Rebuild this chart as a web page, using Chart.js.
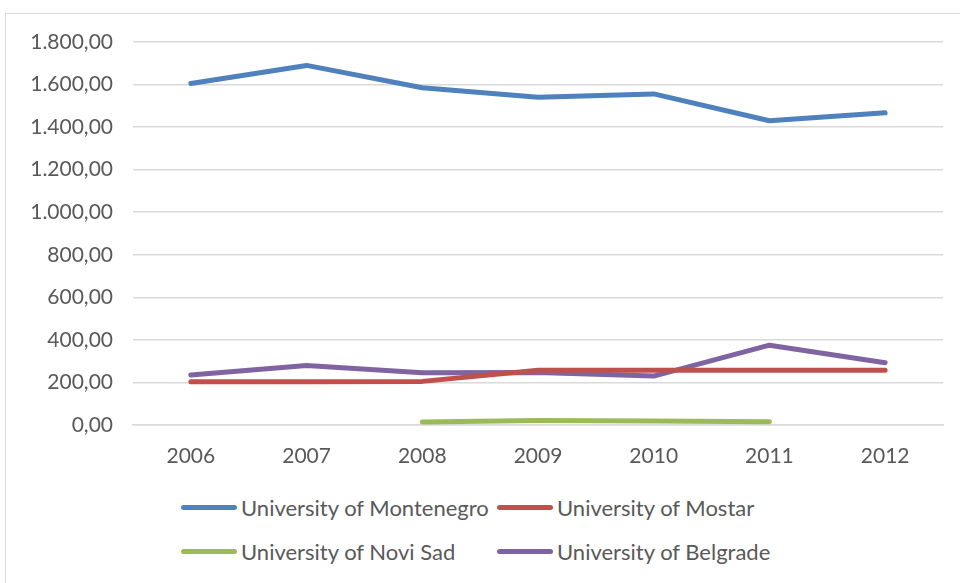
<!DOCTYPE html>
<html>
<head>
<meta charset="utf-8">
<script src="https://cdn.jsdelivr.net/npm/chart.js@4.4.1/dist/chart.umd.min.js"></script>
<style>
  html, body { margin: 0; padding: 0; background: #fff; }
  body { width: 960px; height: 583px; position: relative; overflow: hidden; font-family: Lato, "Open Sans", sans-serif; }
  .frame { position: absolute; left: 5px; top: 13px; width: 1000px; height: 600px; border: 1px solid #d9d9d9; }
  .wrap { position: absolute; left: 0; top: 0; width: 960px; height: 480px; }
  .legend { position: absolute; left: 0; top: 0; color: #595959; font-size: 22px; }
  .item { position: absolute; display: flex; align-items: center; white-space: nowrap; }
  .swatch { width: 56px; height: 5px; border-radius: 3px; margin-right: 4px; }
</style>
</head>
<body>
<div class="frame"></div>
<div class="wrap"><canvas id="uniChart"></canvas></div>
<div class="legend" id="legend"></div>
<script>
/* ============================
   DATA
============================ */
const years = ["2006", "2007", "2008", "2009", "2010", "2011", "2012"];
const montenegro = [1605, 1690, 1585, 1540, 1556, 1430, 1467];
const mostar = [203, 203, 205, 257, 257, 257, 257];
const noviSad = [null, null, 14, 21, 19, 15, null];
const belgrade = [235, 280, 246, 247, 230, 375, 293];
const seriesNames = [
  "University of Montenegro",
  "University of Mostar",
  "University of Novi Sad",
  "University of Belgrade",
];
const seriesColors = ["#4F81BD", "#C0504D", "#9BBB59", "#8064A2"];

// 1.800,00 style
function fmt(v) {
  const s = Math.round(v).toString().replace(/\B(?=(\d{3})+(?!\d))/g, ".");
  return s + ",00";
}

/* ============================
   CHART
============================ */
const seriesData = [montenegro, mostar, noviSad, belgrade];
const ctx = document.getElementById("uniChart").getContext("2d");
const tickFont = { size: 21, family: "Lato, 'Open Sans', sans-serif" };

const chart = new Chart(ctx, {
  type: "line",
  data: {
    labels: years,
    datasets: seriesData.map((d, i) => ({
      label: seriesNames[i],
      data: d,
      borderColor: seriesColors[i],
      backgroundColor: seriesColors[i],
      borderWidth: 5,
      borderCapStyle: "round",
      borderJoinStyle: "round",
      pointRadius: 0,
      tension: 0,
      spanGaps: false,
    })),
  },
  options: {
    responsive: true,
    maintainAspectRatio: false,
    animation: false,
    layout: { padding: { top: 42, right: 17, left: 0, bottom: 0 } },
    plugins: {
      legend: { display: false },
      tooltip: { enabled: false },
    },
    scales: {
      x: {
        offset: true,
        grid: { display: false, drawTicks: false, offset: true },
        border: { display: true, color: "#d9d9d9", width: 1.5 },
        ticks: { color: "#595959", font: tickFont, padding: 19 },
        afterFit: (s) => { s.height = 55; },
      },
      y: {
        min: 0,
        max: 1800,
        grid: { color: "#d9d9d9", lineWidth: 1.5, drawTicks: false },
        border: { display: false },
        ticks: {
          stepSize: 200,
          color: "#595959",
          font: tickFont,
          padding: 20,
          callback: (v) => fmt(v),
        },
        afterFit: (s) => { s.width = 133; },
      },
    },
  },
});

/* ============================
   LEGEND (grid like the original)
============================ */
const legendPos = [
  [181, 507],
  [497, 507],
  [181, 551],
  [497, 551],
];
const legend = document.getElementById("legend");
seriesNames.forEach((name, i) => {
  const item = document.createElement("div");
  item.className = "item";
  item.style.left = legendPos[i][0] + "px";
  item.style.top = legendPos[i][1] - 13 + "px";
  item.style.height = "26px";
  item.innerHTML = '<span class="swatch" style="background:' + seriesColors[i] + '"></span><span>' + name + "</span>";
  legend.appendChild(item);
});
</script>
</body>
</html>
